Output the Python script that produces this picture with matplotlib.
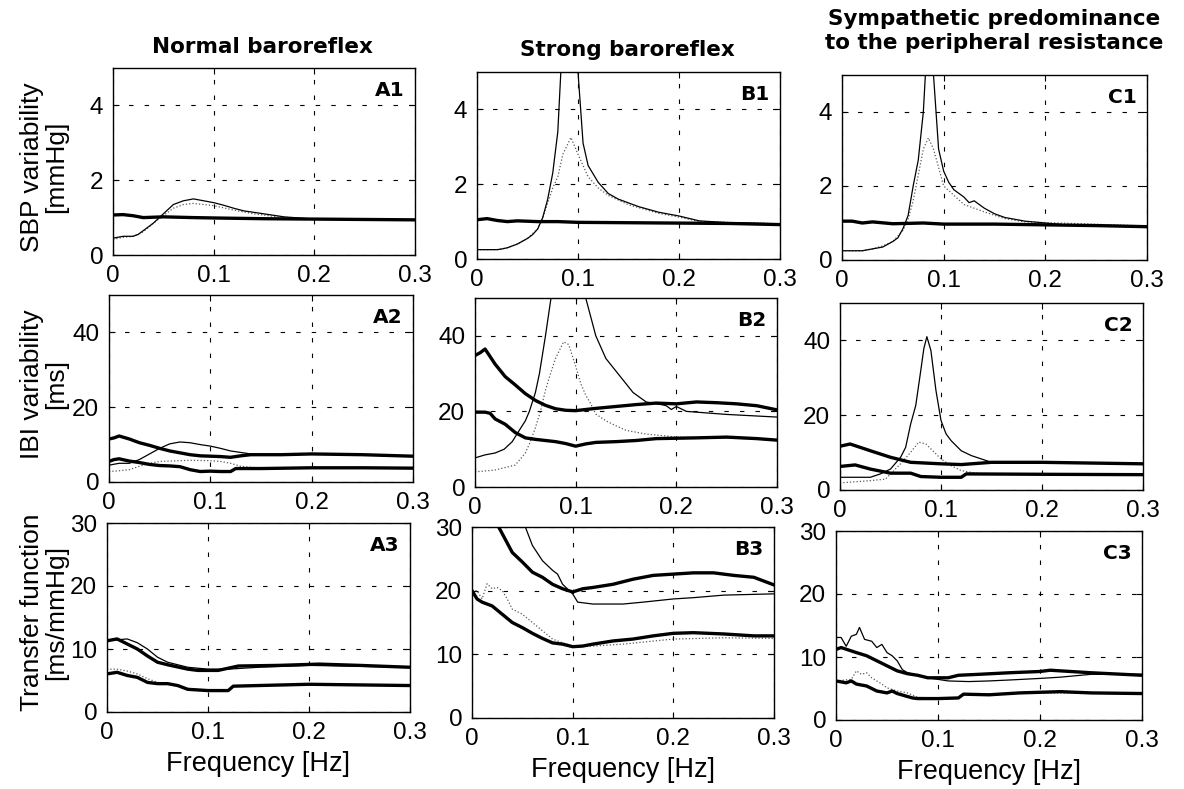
import matplotlib
matplotlib.use("Agg")
import matplotlib.pyplot as plt

plt.rcParams['font.family'] = ['Liberation Sans', 'DejaVu Sans']

# ---- data: (frequency [Hz], value) per curve ----
# row 1: SBP variability [mmHg]
a1_thick = ([0, 0.01, 0.02, 0.03, 0.05, 0.08, 0.1, 0.15, 0.2, 0.25, 0.3],
            [1.07, 1.08, 1.05, 1.0, 1.02, 1.0, 0.99, 0.97, 0.96, 0.95, 0.94])
a1_thin = ([0, 0.01, 0.02, 0.025, 0.03, 0.04, 0.05, 0.06, 0.07, 0.08, 0.09, 0.1, 0.11, 0.12,
            0.13, 0.15, 0.17, 0.2, 0.25, 0.3],
           [0.45, 0.5, 0.5, 0.55, 0.65, 0.85, 1.1, 1.35, 1.45, 1.5, 1.45, 1.4, 1.33, 1.25,
            1.18, 1.1, 1.02, 0.96, 0.95, 0.94])
a1_dot = ([0, 0.01, 0.02, 0.03, 0.04, 0.05, 0.06, 0.07, 0.08, 0.1, 0.12, 0.14, 0.17, 0.2, 0.3],
          [0.42, 0.47, 0.5, 0.62, 0.85, 1.05, 1.25, 1.35, 1.38, 1.32, 1.2, 1.1, 1.0, 0.96, 0.94])

b1_thick = ([0, 0.01, 0.02, 0.03, 0.04, 0.06, 0.08, 0.1, 0.15, 0.2, 0.25, 0.3],
            [1.05, 1.08, 1.03, 1.0, 1.02, 1.0, 1.0, 0.98, 0.97, 0.96, 0.95, 0.92])
b1_thin = ([0, 0.02, 0.025, 0.03, 0.04, 0.05, 0.055, 0.06, 0.065, 0.07, 0.075, 0.08, 0.083,
            0.092, 0.1, 0.105, 0.11, 0.12, 0.13, 0.14, 0.15, 0.16, 0.18, 0.2, 0.22, 0.25, 0.3],
           [0.25, 0.25, 0.27, 0.3, 0.4, 0.55, 0.65, 0.8, 1.1, 1.6, 2.3, 3.4, 5.0,
            9.0, 5.0, 3.1, 2.5, 2.05, 1.75, 1.6, 1.5, 1.4, 1.25, 1.15, 1.02, 0.97, 0.94])
b1_dot = ([0, 0.02, 0.03, 0.04, 0.05, 0.06, 0.065, 0.07, 0.075, 0.08, 0.085, 0.093, 0.1,
           0.105, 0.11, 0.12, 0.13, 0.15, 0.18, 0.2, 0.22, 0.3],
          [0.25, 0.25, 0.3, 0.4, 0.55, 0.8, 1.1, 1.5, 1.9, 2.2, 2.8, 3.25, 2.8,
           2.5, 2.2, 1.9, 1.7, 1.45, 1.22, 1.12, 1.0, 0.94])

c1_thick = ([0, 0.01, 0.02, 0.03, 0.05, 0.08, 0.1, 0.15, 0.2, 0.25, 0.3],
            [1.05, 1.05, 1.0, 1.03, 0.98, 1.0, 0.97, 0.97, 0.95, 0.93, 0.9])
c1_thin = ([0, 0.02, 0.03, 0.04, 0.05, 0.055, 0.06, 0.065, 0.07, 0.075, 0.08, 0.082, 0.086,
            0.09, 0.095, 0.1, 0.105, 0.11, 0.12, 0.125, 0.13, 0.14, 0.15, 0.16, 0.18, 0.2,
            0.22, 0.3],
           [0.25, 0.25, 0.3, 0.35, 0.5, 0.6, 0.85, 1.2, 2.0, 2.7, 4.0, 5.0, 9.0,
            5.0, 3.0, 2.4, 2.1, 1.9, 1.7, 1.55, 1.6, 1.4, 1.25, 1.15, 1.05, 1.0,
            0.95, 0.92])
c1_dot = ([0, 0.02, 0.03, 0.04, 0.05, 0.06, 0.065, 0.07, 0.075, 0.08, 0.085, 0.09, 0.095,
           0.1, 0.11, 0.12, 0.13, 0.14, 0.16, 0.18, 0.3],
          [0.25, 0.25, 0.3, 0.38, 0.5, 0.8, 1.1, 1.6, 2.3, 3.0, 3.3, 3.0, 2.5,
           2.0, 1.75, 1.5, 1.4, 1.3, 1.12, 1.03, 0.92])

# row 2: IBI variability [ms]
a2_thick_hi = ([0, 0.005, 0.01, 0.02, 0.03, 0.04, 0.05, 0.06, 0.07, 0.08, 0.09, 0.1, 0.11,
                0.12, 0.13, 0.14, 0.17, 0.2, 0.25, 0.3],
               [11.5, 11.8, 12.3, 11.5, 10.5, 9.8, 9.0, 8.3, 7.8, 7.3, 7.0, 6.9, 6.8,
                6.6, 7.0, 7.3, 7.3, 7.5, 7.3, 6.9])
a2_thick_lo = ([0, 0.005, 0.01, 0.02, 0.03, 0.04, 0.05, 0.06, 0.07, 0.08, 0.09, 0.1, 0.11,
                0.12, 0.125, 0.15, 0.2, 0.25, 0.3],
               [5.5, 6.0, 6.2, 5.6, 5.2, 4.7, 4.4, 4.3, 4.1, 3.3, 2.8, 2.9, 2.8,
                2.8, 3.6, 3.6, 3.8, 3.8, 3.7])
a2_thin = ([0, 0.01, 0.02, 0.03, 0.04, 0.05, 0.06, 0.07, 0.08, 0.09, 0.1, 0.11, 0.12, 0.13,
            0.14, 0.16, 0.2, 0.3],
           [4.5, 5.0, 5.0, 6.0, 7.5, 9.0, 10.2, 10.7, 10.5, 10.0, 9.6, 9.0, 8.3, 7.9,
            7.5, 7.3, 7.5, 6.9])
a2_dot = ([0, 0.01, 0.02, 0.03, 0.04, 0.05, 0.06, 0.08, 0.1, 0.11, 0.12, 0.13, 0.15, 0.2, 0.3],
          [2.8, 3.0, 3.3, 4.2, 5.0, 5.5, 5.6, 5.8, 5.7, 5.5, 5.0, 4.2, 3.7, 3.8, 3.7])

b2_thick_hi = ([0, 0.005, 0.01, 0.02, 0.03, 0.04, 0.05, 0.06, 0.07, 0.08, 0.09, 0.1, 0.12,
                0.14, 0.16, 0.18, 0.2, 0.22, 0.24, 0.26, 0.28, 0.3],
               [34.8, 35.5, 36.5, 32.5, 29.2, 27.0, 24.7, 22.9, 21.6, 20.7, 20.3, 20.2, 20.8,
                21.3, 21.8, 22.2, 22.0, 22.5, 22.3, 22.0, 21.5, 20.4])
b2_thick_lo = ([0, 0.01, 0.015, 0.02, 0.03, 0.04, 0.05, 0.06, 0.07, 0.08, 0.09, 0.1, 0.11,
                0.12, 0.14, 0.16, 0.18, 0.2, 0.22, 0.25, 0.28, 0.3],
               [19.8, 19.8, 19.5, 18.0, 16.6, 14.4, 13.0, 12.6, 12.3, 12.0, 11.5, 10.8, 11.4,
                11.8, 12.0, 12.3, 12.8, 12.9, 13.0, 13.2, 12.8, 12.4])
b2_thin = ([0, 0.01, 0.02, 0.029, 0.037, 0.044, 0.05, 0.054, 0.06, 0.064, 0.07, 0.0755, 0.085,
            0.1, 0.11, 0.12, 0.13, 0.142, 0.157, 0.17, 0.185, 0.19, 0.195, 0.2, 0.21, 0.25,
            0.3],
           [7.7, 8.5, 9.0, 10.0, 12.0, 15.0, 17.5, 20.0, 25.0, 30.0, 40.0, 50.0, 60.0,
            60.0, 50.0, 40.0, 34.0, 30.0, 25.0, 22.5, 21.8, 21.5, 20.5, 21.3, 20.0, 19.2,
            18.5])
b2_dot = ([0, 0.02, 0.04, 0.05, 0.055, 0.06, 0.065, 0.07, 0.075, 0.08, 0.088, 0.093, 0.1,
           0.105, 0.11, 0.115, 0.12, 0.13, 0.14, 0.15, 0.17, 0.19, 0.2, 0.25, 0.3],
          [4.0, 4.5, 5.8, 9.0, 12.0, 15.7, 20.0, 25.6, 30.0, 34.0, 38.4, 37.7, 32.0,
           27.4, 24.3, 22.0, 19.3, 17.5, 16.2, 15.0, 14.0, 13.5, 13.2, 13.0, 12.4])

c2_thick_hi = ([0, 0.01, 0.03, 0.05, 0.07, 0.1, 0.12, 0.15, 0.2, 0.25, 0.3],
               [11.7, 12.3, 10.5, 8.75, 7.4, 7.0, 6.8, 7.4, 7.4, 7.2, 7.0])
c2_thick_lo = ([0, 0.015, 0.03, 0.05, 0.07, 0.08, 0.1, 0.12, 0.125, 0.2, 0.3],
               [6.3, 6.7, 5.6, 4.5, 4.5, 3.6, 3.4, 3.4, 4.3, 4.2, 4.1])
c2_thin = ([0, 0.03, 0.04, 0.05, 0.06, 0.065, 0.07, 0.075, 0.08, 0.083, 0.086, 0.09, 0.095,
            0.1, 0.105, 0.11, 0.12, 0.13, 0.14, 0.15, 0.2, 0.3],
           [3.4, 3.4, 4.3, 5.6, 8.75, 11.4, 17.7, 22.6, 32.0, 37.8, 41.0, 37.3, 26.6,
            18.6, 15.0, 13.2, 10.5, 9.2, 8.3, 7.4, 7.4, 7.0])
c2_dot = ([0, 0.03, 0.045, 0.05, 0.06, 0.07, 0.078, 0.085, 0.09, 0.1, 0.11, 0.12, 0.13, 0.14,
           0.2, 0.3],
          [1.9, 2.5, 2.9, 4.3, 7.0, 10.1, 12.8, 12.3, 11.0, 8.3, 6.5, 5.2, 4.7, 4.3,
           4.2, 4.1])

# row 3: transfer function [ms/mmHg]
a3_thick_hi = ([0, 0.01, 0.02, 0.03, 0.04, 0.05, 0.06, 0.08, 0.09, 0.11, 0.13, 0.17, 0.21,
                0.25, 0.3],
               [11.3, 11.6, 10.8, 10.0, 8.9, 7.9, 7.5, 6.8, 6.6, 6.6, 7.3, 7.4, 7.6,
                7.4, 7.1])
a3_thin = ([0, 0.02, 0.03, 0.04, 0.05, 0.06, 0.08, 0.1, 0.12, 0.15, 0.2, 0.3],
           [11.3, 11.6, 11.0, 10.0, 8.7, 7.9, 7.1, 6.8, 6.8, 7.1, 7.4, 7.1])
a3_thick_lo = ([0, 0.01, 0.02, 0.03, 0.04, 0.05, 0.06, 0.07, 0.08, 0.1, 0.12, 0.125, 0.2, 0.3],
               [6.05, 6.3, 5.8, 5.5, 4.7, 4.5, 4.5, 4.2, 3.6, 3.4, 3.4, 4.1, 4.4, 4.2])
a3_dot = ([0, 0.01, 0.02, 0.03, 0.04, 0.05, 0.06, 0.08, 0.1, 0.12, 0.125, 0.2, 0.3],
          [6.8, 6.8, 6.5, 6.05, 5.3, 4.7, 4.5, 3.7, 3.5, 3.5, 4.1, 4.4, 4.2])

b3_thick_hi = ([0, 0.01, 0.02, 0.0265, 0.04, 0.05, 0.06, 0.07, 0.08, 0.09, 0.1, 0.11, 0.12,
                0.14, 0.16, 0.18, 0.2, 0.22, 0.24, 0.26, 0.28, 0.3],
               [35.0, 33.0, 31.0, 30.0, 26.0, 24.5, 22.9, 22.1, 21.0, 20.3, 19.8, 20.3, 20.5,
                21.0, 21.8, 22.4, 22.6, 22.8, 22.8, 22.4, 22.1, 20.9])
b3_thin = ([0.04, 0.053, 0.06, 0.07, 0.08, 0.085, 0.09, 0.1, 0.105, 0.12, 0.15, 0.17, 0.2,
            0.22, 0.25, 0.3],
           [34.0, 30.0, 27.1, 24.7, 23.2, 22.6, 21.0, 19.5, 18.2, 17.9, 17.9, 18.2, 18.7,
            18.9, 19.3, 19.5])
b3_thick_lo = ([0, 0.005, 0.01, 0.02, 0.03, 0.04, 0.05, 0.06, 0.07, 0.08, 0.09, 0.1, 0.11,
                0.12, 0.14, 0.16, 0.18, 0.2, 0.22, 0.25, 0.28, 0.3],
               [20.0, 18.7, 18.2, 17.6, 16.3, 15.0, 14.2, 13.3, 12.5, 11.8, 11.6, 11.2, 11.3,
                11.6, 12.1, 12.4, 12.9, 13.3, 13.4, 13.2, 12.9, 12.9])
b3_dot = ([0, 0.005, 0.01, 0.015, 0.02, 0.025, 0.03, 0.035, 0.04, 0.05, 0.06, 0.07, 0.08,
           0.09, 0.1, 0.12, 0.15, 0.2, 0.25, 0.3],
          [20.0, 20.0, 18.7, 21.1, 20.3, 20.5, 20.0, 18.7, 17.1, 16.3, 15.0, 13.7, 12.4,
           11.8, 11.3, 11.3, 11.6, 12.4, 12.6, 12.5])

c3_thick_hi = ([0, 0.005, 0.02, 0.03, 0.04, 0.05, 0.06, 0.07, 0.08, 0.09, 0.1, 0.11, 0.12,
                0.14, 0.17, 0.2, 0.21, 0.25, 0.3],
               [11.2, 11.5, 10.7, 10.2, 9.4, 8.6, 7.8, 7.35, 7.1, 6.7, 6.7, 6.7, 7.1,
                7.25, 7.5, 7.7, 7.9, 7.5, 7.1])
c3_thin = ([0, 0.005, 0.01, 0.015, 0.02, 0.023, 0.028, 0.035, 0.04, 0.045, 0.05, 0.055, 0.06,
            0.065, 0.07, 0.09, 0.1, 0.11, 0.13, 0.15, 0.17, 0.2, 0.22, 0.25, 0.3],
           [13.1, 13.1, 11.7, 13.3, 13.6, 14.7, 12.8, 12.5, 11.5, 12.0, 10.7, 10.2, 9.4,
            8.0, 7.5, 6.7, 6.45, 6.2, 6.1, 6.2, 6.35, 6.6, 6.8, 7.25, 7.25])
c3_thick_lo = ([0, 0.01, 0.015, 0.02, 0.03, 0.04, 0.05, 0.055, 0.06, 0.075, 0.08, 0.1, 0.12,
                0.125, 0.15, 0.18, 0.22, 0.25, 0.3],
               [6.2, 5.9, 6.2, 5.7, 5.4, 4.6, 4.3, 4.6, 4.2, 3.5, 3.4, 3.4, 3.5,
                4.1, 4.0, 4.3, 4.5, 4.3, 4.2])
c3_dot = ([0, 0.015, 0.02, 0.025, 0.03, 0.035, 0.04, 0.045, 0.05, 0.06, 0.07, 0.08, 0.1, 0.12,
           0.125, 0.2, 0.3],
          [6.2, 6.45, 7.8, 7.25, 7.5, 6.7, 6.2, 5.7, 5.1, 4.6, 4.3, 3.6, 3.5, 3.5,
           4.1, 4.3, 4.2])

col_titles = ["Normal baroreflex", "Strong baroreflex",
              "Sympathetic predominance\nto the peripheral resistance"]
row_labels = ["SBP variability\n[mmHg]", "IBI variability\n[ms]",
              "Transfer function\n[ms/mmHg]"]
row_ylims = [5, 50, 30]
row_yticks = [[0, 2, 4], [0, 20, 40], [0, 10, 20, 30]]
x_ticks = [0, 0.1, 0.2, 0.3]
panel_names = [["A1", "B1", "C1"], ["A2", "B2", "C2"], ["A3", "B3", "C3"]]

thick = [[[a1_thick], [b1_thick], [c1_thick]],
         [[a2_thick_hi, a2_thick_lo], [b2_thick_hi, b2_thick_lo], [c2_thick_hi, c2_thick_lo]],
         [[a3_thick_hi, a3_thick_lo], [b3_thick_hi, b3_thick_lo], [c3_thick_hi, c3_thick_lo]]]
thin = [[a1_thin, b1_thin, c1_thin], [a2_thin, b2_thin, c2_thin], [a3_thin, b3_thin, c3_thin]]
dots = [[a1_dot, b1_dot, c1_dot], [a2_dot, b2_dot, c2_dot], [a3_dot, b3_dot, c3_dot]]

# axes boxes in pixels (left, top, right, bottom), the scan is a bit skewed
boxes = [[(113, 68, 415, 255), (477, 72, 780, 259), (842, 75, 1147, 260)],
         [(109, 295, 413, 482), (475, 298, 777, 487), (840, 303, 1143, 490)],
         [(107, 523, 410, 712), (472, 527, 774, 718), (836, 531, 1142, 720)]]

W, H = 1184, 789
fig = plt.figure(figsize=(W / 100, H / 100), dpi=100)

for r in range(3):
    for c in range(3):
        l, t, rr, b = boxes[r][c]
        ax = fig.add_axes([l / W, 1 - b / H, (rr - l) / W, (b - t) / H])
        ax.plot(dots[r][c][0], dots[r][c][1], color='0.35', lw=0.9, ls=':')
        ax.plot(thin[r][c][0], thin[r][c][1], color='k', lw=0.9)
        for th in thick[r][c]:
            ax.plot(th[0], th[1], color='k', lw=2.4)
        ax.set_xlim(0, 0.3)
        ax.set_ylim(0, row_ylims[r])
        ax.set_xticks(x_ticks)
        ax.set_xticklabels(["0", "0.1", "0.2", "0.3"])
        ax.set_yticks(row_yticks[r])
        ax.grid(True, color='k', linestyle=(0, (4, 10)), linewidth=0.8)
        ax.tick_params(direction='in', length=4, top=True, right=True,
                       labelsize=17.5, pad=7)
        for s in ax.spines.values():
            s.set_linewidth(1.0)
        ax.text(0.965, 0.93, panel_names[r][c], transform=ax.transAxes,
                ha='right', va='top', fontsize=14.5, fontweight='bold',
                family='DejaVu Sans')
        if r == 2:
            ax.set_xlabel("Frequency [Hz]", fontsize=19.5, labelpad=5)

# column titles
fig.text(262 / W, 1 - 47 / H, col_titles[0], ha='center', va='center',
         fontsize=15.5, fontweight='bold', family='DejaVu Sans')
fig.text(627 / W, 1 - 50 / H, col_titles[1], ha='center', va='center',
         fontsize=15.5, fontweight='bold', family='DejaVu Sans')
fig.text(994 / W, 1 - 31 / H, col_titles[2], ha='center', va='center',
         fontsize=15.5, fontweight='bold', family='DejaVu Sans', linespacing=1.3)

# row labels
for r, yc in enumerate([167, 384, 612]):
    fig.text(44 / W, 1 - yc / H, row_labels[r], ha='center', va='center',
             rotation=90, fontsize=19, linespacing=1.0)

fig.savefig("out.png", dpi=100)
